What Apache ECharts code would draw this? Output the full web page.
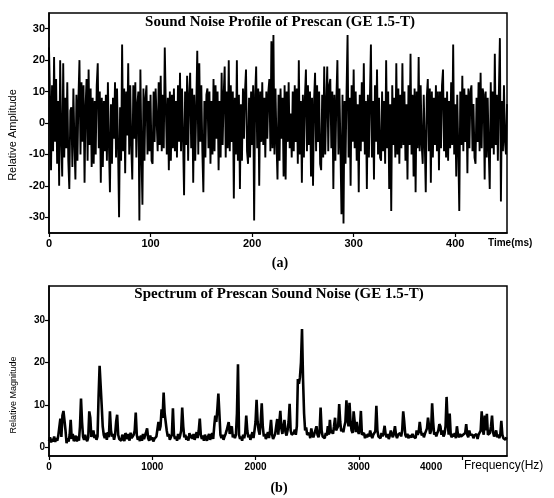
<!DOCTYPE html>
<html>
<head>
<meta charset="utf-8">
<script src="https://cdn.jsdelivr.net/npm/echarts@6/dist/echarts.min.js"></script>
<style>
  html, body { margin: 0; padding: 0; background: #fff; }
  #chart { width: 554px; height: 498px; }
</style>
</head>
<body>
<div id="chart"></div>
<script>
// (a) time signal, one sample per ms
const timeStepMs = 1
const amplitude = [
  24, 8, -15, 12, -9, 21, -6, 14, -13, 7,
  -20, 20, -5, -17, 19, -11, 8, -8, 13, -12,
  -21, 4, 5, -14, 11, -6, -18, 9, -12, 8,
  20, -10, 13, -6, 12, -19, 5, 14, -12, 17,
  -7, 11, -14, 8, -13, 7, -10, 12, 19, -8,
  10, -19, 8, -14, 7, -9, 9, -12, 13, -7,
  -22, 6, -13, 8, -5, 13, -11, 11, -8, -30,
  5, -12, 25, -9, 11, -16, 10, -4, 19, -10,
  12, -7, -18, 12, -5, 13, -11, 6, 10, -31,
  17, -9, -26, 11, -12, 8, 12, -10, 7, -9,
  9, -12, -13, 10, -6, 11, 11, -9, 13, -7,
  15, -9, 9, -8, 24, 6, -10, 8, -15, 10,
  -12, 9, -8, 11, -9, 7, -11, 12, -6, 16,
  -9, 11, -5, -23, 10, -7, 15, -12, 9, 16,
  -8, 11, -19, 9, -12, 5, 23, -10, 19, -6,
  12, -9, -22, 7, -11, 9, 11, -8, 10, -13,
  7, -10, 14, -9, 12, -5, 10, -15, 7, -11,
  16, -7, 9, 18, -11, 10, -8, 20, -9, 12,
  -6, 10, -24, 8, -10, 20, -12, 9, -21, 6,
  -12, 11, -5, 10, 17, -9, -13, 8, -11, 10,
  -7, 12, -31, 9, 18, -8, 11, -20, 10, -6,
  13, -7, 8, -11, 10, -5, 10, 14, -9, 26,
  -8, 28, -10, 11, -6, -18, 9, -12, 11, -5,
  8, -17, 12, -18, 10, -6, 13, -8, 3, -11,
  10, -9, 12, -6, 11, -13, 20, -10, 7, -19,
  9, -11, 8, 17, -9, 12, -7, 10, -17, 8,
  -20, 7, 16, -9, 12, -6, 10, -13, -15, 9,
  -11, 18, -10, 6, 18, -9, 12, 14, -8, 10,
  -21, 9, -12, 8, 20, -10, 11, -8, -29, 9,
  -32, 7, -13, 10, 28, -11, 8, -20, 12, -6,
  17, -8, 10, -12, 6, -22, 9, -9, 13, -6,
  19, -10, 7, -21, 9, -11, 8, 25, -11, 7,
  -18, 12, -6, 17, -10, 8, -11, -12, 10, -9,
  7, -13, 20, -8, 10, -21, 6, -28, 12, -7,
  8, -11, 19, -10, 11, -13, 9, -8, 19, -7,
  10, -12, 6, -18, 12, -7, 22, -10, 9, -17,
  11, -22, 10, -8, 21, -9, 12, -7, -13, 9,
  -6, -22, 8, 14, -9, 11, -19, 10, -11, 8,
  -7, 12, -9, 10, -15, 10, -8, 12, 17, -9,
  8, -11, 10, -12, 7, -8, 13, -7, 25, -10,
  6, -17, 9, -8, -28, 10, -7, 15, -9, 11,
  -6, 9, -16, 11, -8, 10, 12, -9, 6, -11,
  -13, 8, -6, 13, -9, 16, -8, 11, 9, -18,
  10, -11, 8, -9, -21, 13, -8, 10, -10, 22,
  -7, 9, -12, 10, 27, -25, 7, -9, 12, -6,
  -10, 6
]

// (b) spectrum, one value per 10 Hz
const freqStepHz = 10
const magnitude = [
  1.5, 2.4, 1.2, 2.0, 1.4, 2.6, 1.3, 2.2, 1.6, 2.8,
  3.0, 6.8, 2.5, 7.5, 8.6, 9.0, 4.0, 1.0, 2.2, 1.4,
  3.0, 6.5, 2.0, 3.2, 1.5, 2.0, 2.8, 1.4, 2.6, 1.6,
  5.0, 11.5, 6.0, 2.5, 1.8, 3.0, 2.0, 1.5, 2.4, 8.5,
  7.0, 2.5, 3.2, 4.0, 2.2, 3.0, 1.8, 2.6, 12.0, 19.2,
  19.0, 10.0, 5.0, 3.0, 2.2, 3.4, 1.8, 3.6, 2.4, 8.5,
  4.0, 2.6, 3.2, 1.8, 3.0, 6.0, 7.7, 3.0, 2.0, 2.4,
  1.6, 3.0, 2.2, 1.5, 3.4, 3.8, 2.0, 3.2, 1.6, 3.5,
  2.2, 1.8, 3.0, 4.0, 8.2, 3.0, 1.8, 2.6, 1.5, 2.8,
  1.6, 3.2, 2.0, 2.4, 3.6, 4.5, 2.2, 1.6, 2.8, 1.8,
  2.4, 1.4, 2.0, 1.6, 2.6, 3.0, 6.0, 4.0, 5.0, 9.0,
  7.0, 12.9, 8.0, 8.0, 4.0, 2.6, 3.2, 1.8, 2.4, 3.0,
  9.2, 3.0, 2.0, 2.6, 1.6, 3.2, 2.0, 2.8, 4.0, 9.4,
  5.0, 2.4, 3.0, 1.8, 2.6, 1.6, 3.4, 2.2, 3.0, 2.0,
  3.2, 1.8, 2.8, 3.6, 2.2, 4.0, 6.8, 3.0, 2.0, 2.8,
  1.6, 3.0, 2.2, 1.6, 2.6, 3.2, 1.8, 2.6, 3.4, 2.0,
  5.0, 7.5, 6.0, 9.0, 12.7, 8.0, 3.0, 2.2, 3.0, 1.8,
  2.6, 3.2, 4.0, 5.0, 6.0, 3.2, 4.5, 5.0, 2.4, 3.0,
  2.2, 3.0, 8.0, 19.6, 3.0, 2.0, 2.6, 1.6, 3.0, 2.2,
  3.4, 7.5, 4.0, 2.4, 3.0, 1.8, 2.8, 3.6, 2.2, 4.0,
  6.0, 11.2, 6.0, 4.0, 3.0, 6.0, 10.4, 5.0, 2.6, 3.2,
  2.0, 2.8, 3.6, 2.2, 4.0, 6.5, 3.0, 2.0, 2.6, 3.2,
  5.0, 6.7, 3.0, 2.6, 8.6, 4.5, 3.2, 5.0, 6.5, 3.6,
  2.8, 4.0, 6.0, 10.3, 4.0, 3.0, 2.6, 3.4, 4.2, 3.0,
  5.0, 16.1, 15.0, 16.5, 20.0, 27.9, 16.0, 8.0, 4.0, 4.7,
  3.0, 2.6, 3.4, 2.2, 4.5, 3.0, 2.4, 3.2, 2.8, 5.0,
  3.0, 2.4, 3.6, 9.4, 4.0, 2.6, 3.0, 2.2, 3.4, 2.8,
  5.0, 3.0, 6.5, 3.4, 4.0, 3.2, 5.0, 7.0, 4.0, 3.6,
  5.0, 10.2, 6.0, 3.8, 4.4, 3.6, 5.0, 6.0, 11.1, 7.0,
  5.0, 10.5, 6.0, 4.0, 3.4, 8.5, 6.0, 3.6, 6.0, 4.0,
  3.2, 4.4, 8.6, 3.0, 2.6, 3.4, 2.2, 3.0, 2.4, 3.2,
  2.6, 4.0, 3.0, 2.2, 3.0, 2.6, 3.8, 9.8, 4.0, 2.6,
  3.0, 2.2, 3.4, 2.6, 3.6, 5.1, 3.0, 2.4, 3.2, 2.0,
  2.8, 4.0, 3.0, 2.4, 3.4, 5.0, 3.0, 2.2, 3.0, 2.6,
  3.4, 2.6, 4.0, 8.5, 6.0, 3.0, 2.4, 3.2, 2.2, 2.8,
  3.0, 2.4, 3.2, 2.6, 3.0, 2.2, 4.0, 3.0, 3.6, 6.0,
  4.0, 2.8, 3.4, 2.4, 3.2, 3.6, 4.5, 7.0, 5.0, 3.2,
  4.0, 10.4, 6.0, 3.0, 3.6, 2.6, 3.4, 4.0, 5.5, 5.0,
  3.0, 4.0, 2.6, 3.2, 5.0, 11.9, 6.0, 3.0, 8.0, 3.0,
  2.4, 3.2, 2.6, 3.4, 2.2, 5.0, 3.0, 2.4, 3.2, 2.6,
  2.2, 3.0, 2.6, 3.4, 5.5, 3.0, 2.4, 4.0, 3.0, 2.6,
  3.0, 2.2, 2.8, 2.4, 3.2, 2.0, 3.0, 2.6, 4.0, 8.5,
  4.0, 3.0, 7.5, 4.0, 7.9, 3.0, 2.6, 3.4, 5.0, 7.5,
  3.6, 2.6, 3.2, 4.0, 2.4, 3.0, 2.2, 3.0, 6.3, 3.0,
  2.2, 2.0, 1.8, 2.4
]

// tick labels
const timeTicks = [0, 100, 200, 300, 400]
const ampTicks = [-30, -20, -10, 0, 10, 20, 30]
const freqTicks = [0, 1000, 2000, 3000, 4000]
const magTicks = [0, 10, 20, 30]

const timeData = amplitude.map((v, i) => [i * timeStepMs, v])
const freqData = magnitude.map((v, i) => [i * freqStepHz, v])

const tickFont = { color: '#000', fontFamily: 'Liberation Sans', fontWeight: 'bold' }
const axisLine = { show: true, onZero: false, lineStyle: { color: '#000', width: 1.5 } }
const tick = { show: true, length: 4, lineStyle: { color: '#000', width: 1.2 } }

const chart = echarts.init(document.getElementById('chart'))
chart.setOption({
  animation: false,
  backgroundColor: '#fff',
  grid: [
    { left: 49, top: 13, width: 458, height: 220, show: true, borderColor: '#000', borderWidth: 1.5 },
    { left: 49, top: 286, width: 458, height: 170, show: true, borderColor: '#000', borderWidth: 1.5 }
  ],
  xAxis: [
    {
      type: 'value', gridIndex: 0, min: 0, max: 451,
      axisLine, axisTick: { ...tick, customValues: timeTicks },
      axisLabel: { ...tickFont, fontSize: 11, margin: 5, customValues: timeTicks },
      splitLine: { show: false }
    },
    {
      type: 'value', gridIndex: 1, min: 0, max: 4435,
      axisLine, axisTick: { ...tick, customValues: freqTicks },
      axisLabel: {
        ...tickFont, fontSize: 10, margin: 6, customValues: freqTicks,
        formatter: v => v === 4000 ? '{l|4000}' : String(v),
        rich: { l: { ...tickFont, fontSize: 10, padding: [0, 62, 0, 0] } }
      },
      splitLine: { show: false }
    }
  ],
  yAxis: [
    {
      type: 'value', gridIndex: 0, min: -35, max: 35,
      axisLine, axisTick: { ...tick, customValues: ampTicks },
      axisLabel: { ...tickFont, fontSize: 11, margin: 4, customValues: ampTicks },
      splitLine: { show: false }
    },
    {
      type: 'value', gridIndex: 1, min: -2, max: 38,
      axisLine, axisTick: { ...tick, customValues: magTicks },
      axisLabel: { ...tickFont, fontSize: 10, margin: 4, customValues: magTicks },
      splitLine: { show: false }
    }
  ],
  series: [
    {
      type: 'line', xAxisIndex: 0, yAxisIndex: 0, data: timeData,
      showSymbol: false, lineStyle: { color: '#000', width: 1.9 }, clip: true
    },
    {
      type: 'line', xAxisIndex: 1, yAxisIndex: 1, data: freqData,
      showSymbol: false, lineStyle: { color: '#000', width: 2.6 }, clip: true
    }
  ],
  graphic: [
    { type: 'text', x: 280, y: 22, style: { text: 'Sound Noise Profile of Prescan (GE 1.5-T)', font: 'bold 15px "Liberation Serif"', fill: '#000', textAlign: 'center', textVerticalAlign: 'middle' } },
    { type: 'text', x: 279, y: 294, style: { text: 'Spectrum of Prescan Sound Noise (GE 1.5-T)', font: 'bold 15px "Liberation Serif"', fill: '#000', textAlign: 'center', textVerticalAlign: 'middle' } },
    { type: 'text', x: 13, y: 135, rotation: Math.PI / 2, style: { text: 'Relative Amplitude', font: '11px "Liberation Sans"', fill: '#000', textAlign: 'center', textVerticalAlign: 'middle' } },
    { type: 'text', x: 14, y: 395, rotation: Math.PI / 2, style: { text: 'Relative Magnitude', font: '9px "Liberation Sans"', fill: '#000', textAlign: 'center', textVerticalAlign: 'middle' } },
    { type: 'text', x: 488, y: 243, style: { text: 'Time(ms)', font: 'bold 10px "Liberation Sans"', fill: '#000', textAlign: 'left', textVerticalAlign: 'middle' } },
    { type: 'text', x: 464, y: 466, style: { text: 'Frequency(Hz)', font: '12px "Liberation Sans"', fill: '#000', textAlign: 'left', textVerticalAlign: 'middle' } },
    { type: 'text', x: 280, y: 263, style: { text: '(a)', font: 'bold 14px "Liberation Serif"', fill: '#000', textAlign: 'center', textVerticalAlign: 'middle' } },
    { type: 'text', x: 279, y: 488, style: { text: '(b)', font: 'bold 14px "Liberation Serif"', fill: '#000', textAlign: 'center', textVerticalAlign: 'middle' } }
  ]
})
</script>
</body>
</html>
